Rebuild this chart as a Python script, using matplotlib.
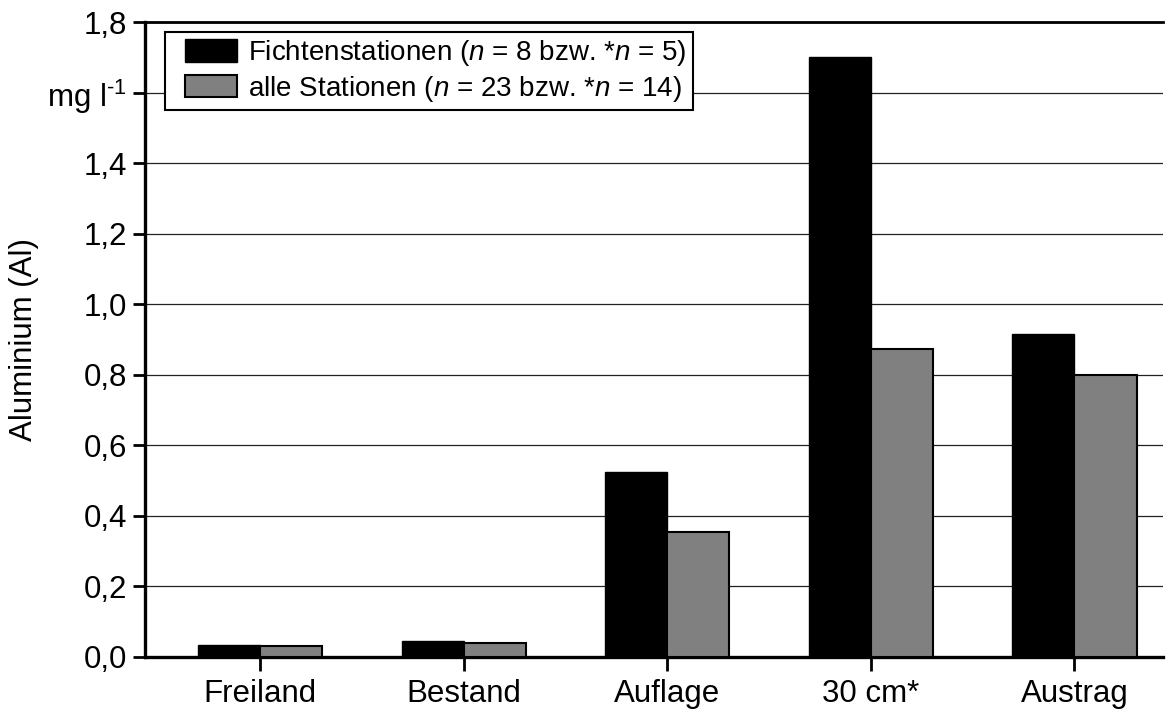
import matplotlib
matplotlib.use("Agg")
import matplotlib.pyplot as plt
from matplotlib.patches import Rectangle
from matplotlib.legend_handler import HandlerPatch
import numpy as np

plt.rcParams['font.family'] = ['Liberation Sans', 'DejaVu Sans']
plt.rcParams['mathtext.fontset'] = 'custom'
plt.rcParams['mathtext.rm'] = 'Liberation Sans'
plt.rcParams['mathtext.it'] = 'Liberation Sans:italic'

categories = ["Freiland", "Bestand", "Auflage", "30 cm*", "Austrag"]
fichte = [0.034, 0.045, 0.523, 1.70, 0.915]
alle = [0.031, 0.041, 0.353, 0.873, 0.798]
ytick_values = [0.0, 0.2, 0.4, 0.6, 0.8, 1.0, 1.2, 1.4, 1.6, 1.8]
ytick_labels = ["0,0", "0,2", "0,4", "0,6", "0,8", "1,0", "1,2", "1,4",
                r"mg l$^{\text{-1}}$", "1,8"]

fig = plt.figure(figsize=(11.71, 7.11), dpi=100)
ax = fig.add_axes([145 / 1171, 1 - 657 / 711, (1163 - 145) / 1171, (657 - 22) / 711])

x = np.arange(len(categories))
w = 0.305
bars_f = ax.bar(x - w / 2, fichte, width=w, color="black", edgecolor="black",
                linewidth=1.0, label=r"Fichtenstationen ($n$ = 8 bzw. *$n$ = 5)",
                zorder=3)
bars_a = ax.bar(x + w / 2, alle, width=w, color="#808080", edgecolor="black",
                linewidth=1.5, label=r"alle Stationen ($n$ = 23 bzw. *$n$ = 14)",
                zorder=3)

ax.set_xlim(-0.565, 4.435)
ax.set_ylim(0, 1.8)
ax.set_yticks(ytick_values)
ax.set_yticklabels(ytick_labels)
ax.set_xticks(x)
ax.set_xticklabels(categories)
ax.yaxis.grid(True, color="#222222", linewidth=0.9, zorder=0)
ax.set_axisbelow(True)

for s in ("left", "bottom"):
    ax.spines[s].set_linewidth(2.4)
ax.spines["top"].set_linewidth(2.0)
ax.spines["right"].set_visible(False)

ax.tick_params(axis="y", direction="out", length=9, width=2, labelsize=22.5, pad=4)
ax.tick_params(axis="x", direction="out", length=10, width=2, labelsize=22.5, pad=6)
ax.set_ylabel("Aluminium (Al)", fontsize=22.5)
ax.yaxis.set_label_coords(-0.104, 0.5)


class InsetPatch(HandlerPatch):
    """Legend key drawn as a rectangle with extra space on its left."""
    def __init__(self, offset, **kw):
        self.offset = offset
        super().__init__(**kw)

    def create_artists(self, legend, orig_handle, xdescent, ydescent,
                       width, height, fontsize, trans):
        p = Rectangle((-xdescent + self.offset, -ydescent),
                      width - self.offset, height)
        self.update_prop(p, orig_handle, legend)
        p.set_transform(trans)
        return [p]


handles = [bars_f.patches[0], bars_a.patches[0]]
labels = [bars_f.get_label(), bars_a.get_label()]
leg = ax.legend(handles, labels, loc="upper left", bbox_to_anchor=(0.0196, 0.984),
                fontsize=20, frameon=True, fancybox=False, edgecolor="black",
                framealpha=1, handlelength=2.37, handleheight=0.87,
                handletextpad=0.4, borderpad=0.22, borderaxespad=0,
                labelspacing=0.2,
                handler_map={Rectangle: InsetPatch(offset=10)})
leg.get_frame().set_linewidth(1.5)
leg.set_zorder(5)

fig.savefig("out.png", dpi=100)
